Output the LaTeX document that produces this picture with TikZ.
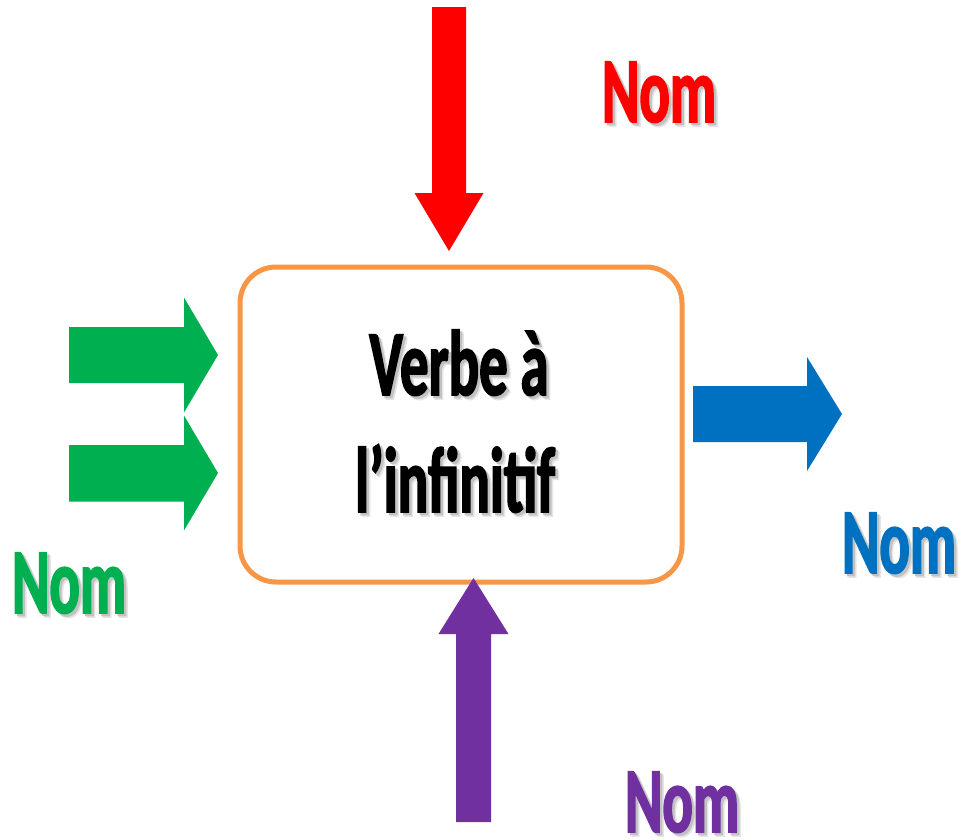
\documentclass[tikz,border=0pt]{standalone}
\usepackage{fontspec}
\setmainfont{Carlito}[FakeStretch=0.61, BoldFeatures={FakeBold=1.7}]

\definecolor{boxorange}{HTML}{F79646}
\definecolor{nomred}{HTML}{FF0000}
\definecolor{nomgreen}{HTML}{00B050}
\definecolor{nomblue}{HTML}{0070C0}
\definecolor{nompurple}{HTML}{7030A0}

% text with a soft grey drop shadow
\newcommand\shadowed[2]{%
  \makebox[0pt][l]{\kern4pt\raisebox{-4pt}{\color{black!10}#2}}%
  \makebox[0pt][l]{\kern2.5pt\raisebox{-2.5pt}{\color{black!24}#2}}%
  {\color{#1}#2}}

\tikzset{
  verbbox/.style={draw=boxorange, line width=5pt, rounded corners=36pt,
    fill=white, minimum width=442pt, minimum height=315pt, inner sep=0pt},
  lbl/.style={anchor=base, inner sep=0pt,
    font=\fontsize{93}{110}\selectfont\bfseries},
  blockarrow/.style={draw=none},
}

\begin{document}
\begin{tikzpicture}[x=1pt, y=-1pt]
  \useasboundingbox (0,0) rectangle (970,839);
  \fill[white] (0,0) rectangle (970,839);

  % central box
  \node[verbbox] (box) at (461,424.5) {};
  \node[lbl] (verb1) at (459,395) {\shadowed{black}{Verbe à}};
  \node[lbl] (verb2) at (455,512) {\shadowed{black}{l’infinitif}};

  % incoming arrows from the left
  \fill[nomgreen, blockarrow] (69,327) -- (184,327) -- (184,297.5) -- (218,355)
    -- (184,412.5) -- (184,383) -- (69,383) -- cycle;
  \fill[nomgreen, blockarrow] (69,445) -- (184,445) -- (184,415.5) -- (218,473)
    -- (184,530.5) -- (184,501.5) -- (69,501.5) -- cycle;

  % outgoing arrow to the right
  \fill[nomblue, blockarrow] (693,386) -- (807,386) -- (807,357) -- (842,414)
    -- (807,471) -- (807,442) -- (693,442) -- cycle;

  % arrow from above
  \fill[nomred, blockarrow] (432,7) -- (466,7) -- (466,193) -- (483.5,193)
    -- (449,251) -- (414.5,193) -- (432,193) -- cycle;

  % arrow from below
  \fill[nompurple, blockarrow] (456,822) -- (491,822) -- (491,634) -- (508.5,634)
    -- (473.5,578) -- (438.5,634) -- (456,634) -- cycle;

  % labels
  \node[lbl] (nomtop) at (659,122) {\shadowed{nomred}{Nom}};
  \node[lbl] (nomleft) at (69,613) {\shadowed{nomgreen}{Nom}};
  \node[lbl] (nomright) at (899,573) {\shadowed{nomblue}{Nom}};
  \node[lbl] (nombottom) at (682,832) {\shadowed{nompurple}{Nom}};
\end{tikzpicture}
\end{document}
